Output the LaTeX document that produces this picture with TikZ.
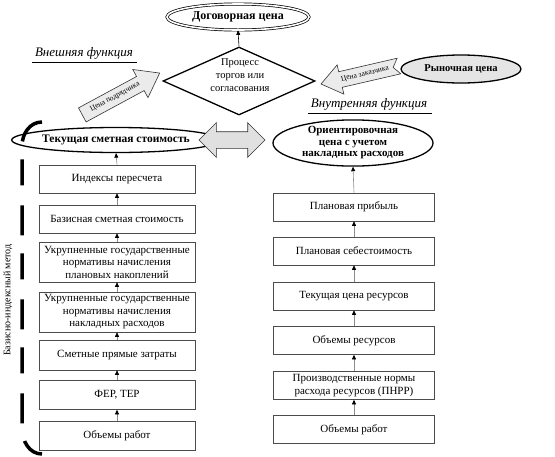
\documentclass[tikz,border=0pt]{standalone}
\usepackage{fontspec}
\setmainfont{Liberation Serif}
\usetikzlibrary{shapes.geometric,shapes.arrows,arrows.meta}
\tikzset{
  box/.style={draw=black!70, line width=0.6pt, fill=white, minimum height=28pt, align=center, inner sep=1pt, font=\rmfamily\fontsize{11}{12.5}\selectfont},
  lbox/.style={box, minimum width=156pt},
  rbox/.style={box, minimum width=161pt},
  conn/.style={draw=black!45, line width=0.6pt, -{Triangle[length=4.5pt,width=4pt,black]}},
  oval/.style={ellipse, draw=black, line width=1.3pt, inner sep=0pt, align=center},
  arrowshape/.style={draw=black!80, line width=0.6pt, fill=black!8},
  arrowtext/.style={inner sep=0pt, font=\rmfamily\fontsize{7.5}{8}\selectfont},
  heading/.style={font=\rmfamily\fontsize{13}{14}\selectfont\itshape, inner sep=1pt},
}
\begin{document}
\begin{tikzpicture}[x=1pt,y=-1pt]
\useasboundingbox (0,0) rectangle (555,456);

% top
\node[ellipse, draw=black, line width=0.7pt, double=white, double distance=1.6pt, minimum width=142pt, minimum height=26pt, inner sep=0pt, font=\rmfamily\fontsize{12}{13}\selectfont\bfseries] (dog) at (238,17) {Договорная цена};
\node[diamond, draw=black, line width=1.3pt, minimum width=152pt, minimum height=68pt, aspect=2.2, inner sep=0pt] (proc) at (239,81) {};
\node[align=center, font=\rmfamily\fontsize{10.5}{13}\selectfont, inner sep=0pt] (proctext) at (240,75) {Процесс\\торгов или\\согласования};
\draw[conn, draw=black] (proc.north) -- (dog.south);

% market price
\node[oval, fill=black!10, minimum width=120pt, minimum height=28pt, font=\rmfamily\fontsize{10.5}{11}\selectfont\bfseries] (market) at (461,69) {Рыночная цена};

% headings
\node[heading] (ext) at (84,53) {Внешняя функция};
\draw[line width=0.6pt] (32,62) -- (137,62);
\node[heading] (int) at (369,104) {Внутренняя функция};
\draw[line width=0.6pt] (308,113) -- (432,113);

% block arrow: contractor price
\begin{scope}[shift={(121,94)}, rotate=28.4]
\draw[arrowshape] (-44,-8) -- (22,-8) -- (22,-16) -- (44,0) -- (22,16) -- (22,8) -- (-44,8) -- cycle;
\end{scope}
\node[arrowtext, rotate=28.4] (contr) at (115,97) {Цена подрядчика};
% block arrow: customer price
\begin{scope}[shift={(360,75)}, rotate=13]
\draw[arrowshape] (40,-8) -- (-20,-8) -- (-20,-15) -- (-40,0) -- (-20,15) -- (-20,8) -- (40,8) -- (34,0) -- cycle;
\end{scope}
\node[arrowtext, rotate=13] (cust) at (365,74) {Цена заказчика};

% left column
\node[oval, minimum width=160pt, minimum height=25pt, font=\rmfamily\fontsize{11.5}{12}\selectfont\bfseries] (cur) at (116,140) {Текущая сметная стоимость};
\node[lbox] (L1) at (117,179) {Индексы пересчета};
\node[lbox] (L2) at (117,219) {Базисная сметная стоимость};
\node[lbox, minimum height=40pt] (L3) at (117,262) {Укрупненные государственные\\нормативы начисления\\плановых накоплений};
\node[lbox, minimum height=40pt] (L4) at (117,312) {Укрупненные государственные\\нормативы начисления\\накладных расходов};
\node[lbox, minimum height=30pt] (L5) at (117,355) {Сметные прямые затраты};
\node[lbox, minimum height=29pt] (L6) at (117,395) {ФЕР, ТЕР};
\node[lbox, minimum height=29pt] (L7) at (117,436) {Объемы работ};
\draw[conn] (L7.north) -- (L6.south);
\draw[conn] (L6.north) -- (L5.south);
\draw[conn] (L5.north) -- (L4.south);
\draw[conn] (L4.north) -- (L3.south);
\draw[conn] (L3.north) -- (L2.south);
\draw[conn] (L2.north) -- (L1.south);
\draw[conn] (L1.north) -- (cur.south);

% right column
\node[oval, minimum width=160pt, minimum height=42pt, font=\rmfamily\fontsize{11}{11.5}\selectfont\bfseries] (est) at (353,143) {Ориентировочная\\цена с учетом\\накладных расходов};
\node[rbox] (R1) at (354,207) {Плановая прибыль};
\node[rbox] (R2) at (354,251) {Плановая себестоимость};
\node[rbox] (R3) at (354,296) {Текущая цена ресурсов};
\node[rbox] (R4) at (354,340.5) {Объемы ресурсов};
\node[rbox] (R5) at (354,385.5) {Производственные нормы\\расхода ресурсов (ПНРР)};
\node[rbox] (R6) at (354,429.5) {Объемы работ};
\draw[conn] (R6.north) -- (R5.south);
\draw[conn] (R5.north) -- (R4.south);
\draw[conn] (R4.north) -- (R3.south);
\draw[conn] (R3.north) -- (R2.south);
\draw[conn] (R2.north) -- (R1.south);
\draw[conn] (R1.north) -- (est.south);

% double arrow
\node[double arrow, draw=black!80, line width=0.6pt, fill=black!12, minimum height=66pt, minimum width=34pt, inner xsep=0pt, inner ysep=8pt, double arrow head extend=9pt] (dbl) at (232,140) {};

% bracket
\draw[line width=3.5pt, dash pattern=on 30pt off 18pt on 26pt off 20pt] (42,122) to[out=180,in=90] (22,146) -- (22,428) to[out=-90,in=180] (42,454);
\node[rotate=90, font=\rmfamily\fontsize{10}{11}\selectfont, inner sep=0pt] (method) at (8,300) {Базисно-индексный метод};
\end{tikzpicture}
\end{document}
